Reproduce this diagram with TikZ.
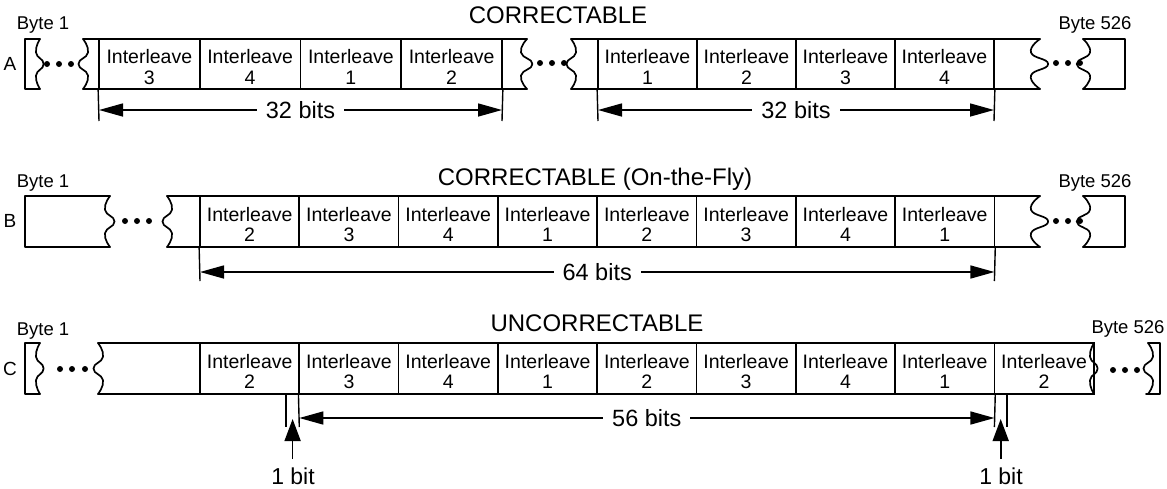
\documentclass[tikz,border=0pt]{standalone}
\usepackage{fontspec}
\setmainfont{Liberation Sans}
\usetikzlibrary{arrows.meta,calc}
\tikzset{
  boxline/.style={line width=1.7pt, line cap=round, line join=round},
  cell/.style={draw, line width=1.7pt, minimum height=50pt, inner sep=0pt},
  ctext/.style={align=center, inner sep=0pt, font=\fontsize{19.5}{20.5}\selectfont},
  ext/.style={line width=1.4pt},
  dimarrow/.style={line width=1.5pt, {Triangle[length=24pt,width=13pt]}-{Triangle[length=24pt,width=13pt]}},
  uparrow/.style={line width=1.7pt, -{Triangle[length=22pt,width=16pt]}},
  dimtext/.style={fill=white, inner xsep=9pt, inner ysep=1pt, font=\fontsize{23.5}{26}\selectfont},
  title/.style={font=\fontsize{24}{26}\selectfont, inner sep=0pt},
  bittext/.style={font=\fontsize{23}{26}\selectfont, inner sep=0pt},
  small/.style={font=\fontsize{18.5}{20}\selectfont, inner sep=0pt},
  rowlbl/.style={font=\fontsize{19}{20}\selectfont, inner sep=0pt},
}
\newcommand{\tornedge}[5]{%
  \pgfmathsetmacro{\teQa}{#2+0.27*(#3-#2)}%
  \pgfmathsetmacro{\teQm}{#2+0.5*(#3-#2)}%
  \pgfmathsetmacro{\teQb}{#2+0.73*(#3-#2)}%
  \pgfmathsetmacro{\teXa}{#1-#4*#5}%
  \pgfmathsetmacro{\teXb}{#1+#4*#5*0.9}%
  \draw[boxline] plot[smooth,tension=0.9] coordinates {(#1,#2) (\teXa,\teQa) (\teXb,\teQm) (\teXa,\teQb) (#1,#3)};%
}
\newcommand{\threedots}[4]{%
  \fill (#1,#4) circle (3pt); \fill (#2,#4) circle (3pt); \fill (#3,#4) circle (3pt);%
}
\begin{document}
\begin{tikzpicture}[x=1pt,y=-1pt]
\useasboundingbox (0,0) rectangle (1167,488);

% ================= Row A =================
\node[title] (tA) at (558,15) {CORRECTABLE};
\node[rowlbl] (lA) at (10,64) {A};
\node[small] (bA1) at (43,25) {Byte 1};
\node[small] (bA2) at (1095,25) {Byte 526};
% left stub
\draw[boxline] (40,39) -- (25,39) -- (25,89) -- (40,89);
\tornedge{40}{39}{89}{1}{4}
\threedots{47}{59}{71}{64}
% box 1
\draw[boxline] (83,39) -- (99,39);
\draw[boxline] (83,89) -- (99,89);
\tornedge{83}{39}{89}{-1}{5}
\foreach \n [count=\i from 0] in {3,4,1,2} {
  \node[cell, minimum width=100.75pt] (A\i) at ({99+100.75*(\i+0.5)},64) {};
  \node[ctext] (tA\i) at ([yshift=-3pt]A\i.center) {Interleave\\\n};
}
\draw[boxline] (502,39) -- (527,39);
\draw[boxline] (502,89) -- (527,89);
\tornedge{527}{39}{89}{1}{6}
\threedots{540}{552}{564}{63}
% box 2
\draw[boxline] (571,39) -- (598,39);
\draw[boxline] (571,89) -- (598,89);
\tornedge{571}{39}{89}{-1}{5}
\foreach \n [count=\i from 0] in {1,2,3,4} {
  \node[cell, minimum width=99pt] (AR\i) at ({598+99*(\i+0.5)},64) {};
  \node[ctext] (tAR\i) at ([yshift=-3pt]AR\i.center) {Interleave\\\n};
}
\draw[boxline] (994,39) -- (1040,39);
\draw[boxline] (994,89) -- (1040,89);
\tornedge{1040}{39}{89}{1}{9}
\threedots{1056}{1068}{1080}{63}
% right stub
\draw[boxline] (1083,39) -- (1125,39) -- (1125,89) -- (1083,89);
\tornedge{1083}{39}{89}{-1}{7}
% dimensions
\coordinate (eA1) at (99,121);
\coordinate (eA2) at (502,121);
\coordinate (eA3) at (598,121);
\coordinate (eA4) at (994,121);
\draw[ext] (A0.south west) -- (eA1);
\draw[ext] (A3.south east) -- (eA2);
\draw[ext] (AR0.south west) -- (eA3);
\draw[ext] (AR3.south east) -- (eA4);
\coordinate (dA1) at (99,110);
\coordinate (dA2) at (502,110);
\coordinate (dA3) at (598,110);
\coordinate (dA4) at (994,110);
\draw[dimarrow] (dA1) -- node[dimtext] (nA1) {32 bits} (dA2);
\draw[dimarrow] (dA3) -- node[dimtext] (nA2) {32 bits} (dA4);

% ================= Row B =================
\node[title] (tB) at (595,179) {CORRECTABLE (On-the-Fly)};
\node[rowlbl] (lB) at (10,221) {B};
\node[small] (bB1) at (43,183) {Byte 1};
\node[small] (bB2) at (1095,183) {Byte 526};
\draw[boxline] (110,196) -- (25,196) -- (25,247) -- (110,247);
\tornedge{110}{196}{247}{1}{5}
\threedots{125}{137}{149}{221}
\draw[boxline] (167,196) -- (200,196);
\draw[boxline] (167,247) -- (200,247);
\tornedge{167}{196}{247}{-1}{5}
\foreach \n [count=\i from 0] in {2,3,4,1,2,3,4,1} {
  \node[cell, minimum width=99.3pt, minimum height=51pt] (B\i) at ({200+99.3*(\i+0.5)},221.5) {};
  \node[ctext] (tB\i) at ([yshift=-3pt]B\i.center) {Interleave\\\n};
}
\draw[boxline] (994.4,196) -- (1040,196);
\draw[boxline] (994.4,247) -- (1040,247);
\tornedge{1040}{196}{247}{1}{9}
\threedots{1056}{1068}{1080}{221}
\draw[boxline] (1083,196) -- (1125,196) -- (1125,247) -- (1083,247);
\tornedge{1083}{196}{247}{-1}{7}
\coordinate (eB1) at (200,281);
\coordinate (eB2) at (994.4,281);
\draw[ext] (B0.south west) -- (eB1);
\draw[ext] (B7.south east) -- (eB2);
\coordinate (dB1) at (200,272);
\coordinate (dB2) at (994.4,272);
\draw[dimarrow] (dB1) -- node[dimtext] (nB) {64 bits} (dB2);

% ================= Row C =================
\node[title] (tC) at (597,323) {UNCORRECTABLE};
\node[rowlbl] (lC) at (10,369) {C};
\node[small] (bC1) at (43,331) {Byte 1};
\node[small] (bC2) at (1128,329) {Byte 526};
\draw[boxline] (40,343) -- (25,343) -- (25,394) -- (40,394);
\tornedge{40}{343}{394}{1}{4}
\threedots{60}{72}{85}{369}
\draw[boxline] (98,343) -- (200,343);
\draw[boxline] (98,394) -- (200,394);
\tornedge{98}{343}{394}{-1}{5}
\foreach \n [count=\i from 0] in {2,3,4,1,2,3,4,1,2} {
  \node[cell, minimum width=99.3pt, minimum height=51pt] (C\i) at ({200+99.3*(\i+0.5)},368.5) {};
  \node[ctext] (tC\i) at ([yshift=-3pt]C\i.center) {Interleave\\\n};
}
\tornedge{1094}{343}{394}{1}{4}
\threedots{1113}{1125}{1137}{370}
\draw[boxline] (1148,343) -- (1160,343) -- (1160,394) -- (1146,394);
\tornedge{1148}{343}{394}{-1}{5}
% dimensions
\coordinate (sC1) at (286,394);
\coordinate (sC2) at (1007,394);
\coordinate (eC0) at (286,427);
\coordinate (eC1) at (299.3,427);
\coordinate (eC2) at (994.4,427);
\coordinate (eC3) at (1007,427);
\draw[ext] (sC1) -- (eC0);
\draw[ext] (C1.south west) -- (eC1);
\draw[ext] (C7.south east) -- (eC2);
\draw[ext] (sC2) -- (eC3);
\coordinate (dC1) at (299.3,418);
\coordinate (dC2) at (994.4,418);
\draw[dimarrow] (dC1) -- node[dimtext] (nC) {56 bits} (dC2);
% 1 bit markers
\node[bittext] (bit1) at (293,476) {1 bit};
\node[bittext] (bit2) at (1001,476) {1 bit};
\coordinate (uC1) at (292.6,419);
\coordinate (uC2) at (1000.7,419);
\coordinate (vC1) at (292.6,459);
\coordinate (vC2) at (1000.7,459);
\draw[uparrow] (vC1) -- (uC1);
\draw[uparrow] (vC2) -- (uC2);
\end{tikzpicture}
\end{document}
